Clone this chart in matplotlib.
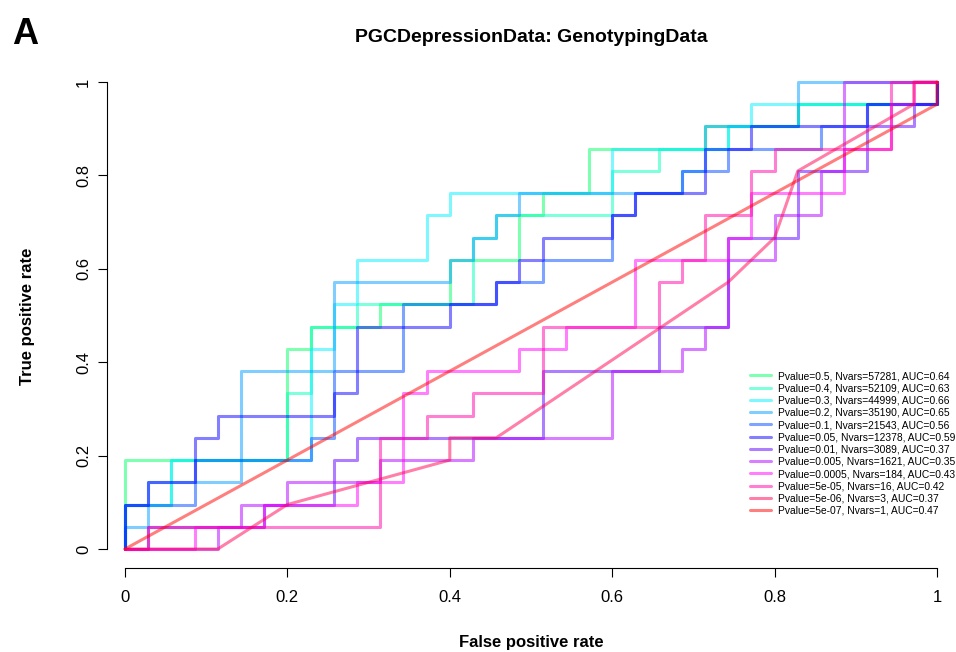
import colorsys
import numpy as np
import matplotlib
matplotlib.use("Agg")
import matplotlib.pyplot as plt

plt.rcParams["font.family"] = ["Liberation Sans", "DejaVu Sans"]

# ---- data -------------------------------------------------------------
N_NEG = 35   # controls  -> false positive rate steps
N_POS = 21   # cases     -> true positive rate steps

pvalues = ["0.5", "0.4", "0.3", "0.2", "0.1", "0.05", "0.01", "0.005",
           "0.0005", "5e-05", "5e-06", "5e-07"]
nvars = [57281, 52109, 44999, 35190, 21543, 12378, 3089, 1621, 184, 16, 3, 1]
auc = [0.64, 0.63, 0.66, 0.65, 0.56, 0.59, 0.37, 0.35, 0.43, 0.42, 0.37, 0.47]

# ROC vertices, in counts of false positives / true positives
fp_p5 = [0, 0, 7, 7, 8, 8, 11, 11, 14, 14, 17, 17, 18, 18, 20, 20, 25, 25, 29, 29, 35, 35]
tp_p5 = [0, 4, 4, 9, 9, 10, 10, 11, 11, 13, 13, 15, 15, 16, 16, 18, 18, 19, 19, 20, 20, 21]

fp_p4 = [0, 0, 2, 2, 7, 7, 8, 8, 10, 10, 15, 15, 16, 16, 21, 21, 23, 23, 26, 26, 29, 29, 35, 35]
tp_p4 = [0, 2, 2, 4, 4, 7, 7, 10, 10, 11, 11, 14, 14, 15, 15, 17, 17, 18, 18, 19, 19, 20, 20, 21]

fp_p3 = [0, 0, 2, 2, 8, 8, 9, 9, 10, 10, 13, 13, 14, 14, 21, 21, 26, 26, 27, 27, 35, 35]
tp_p3 = [0, 2, 2, 4, 4, 9, 9, 11, 11, 13, 13, 15, 15, 16, 16, 18, 18, 19, 19, 20, 20, 21]

fp_p2 = [0, 0, 1, 1, 5, 5, 9, 9, 14, 14, 15, 15, 16, 16, 17, 17, 24, 24, 25, 25, 29, 29, 35]
tp_p2 = [0, 1, 1, 3, 3, 8, 8, 12, 12, 13, 13, 14, 14, 15, 15, 16, 16, 17, 17, 19, 19, 21, 21]

fp_p1 = [0, 0, 3, 3, 8, 8, 9, 9, 12, 12, 16, 16, 18, 18, 21, 21, 22, 22, 24, 24, 26, 26, 30, 30, 32, 32, 35, 35]
tp_p1 = [0, 2, 2, 4, 4, 5, 5, 8, 8, 11, 11, 12, 12, 13, 13, 15, 15, 16, 16, 17, 17, 18, 18, 19, 19, 20, 20, 21]

fp_p05 = [0, 0, 1, 1, 3, 3, 4, 4, 9, 9, 10, 10, 14, 14, 16, 16, 17, 17, 18, 18, 21, 21, 22, 22, 25, 25, 27, 27, 32, 32, 35, 35]
tp_p05 = [0, 2, 2, 3, 3, 5, 5, 6, 6, 7, 7, 10, 10, 11, 11, 12, 12, 13, 13, 14, 14, 15, 15, 16, 16, 18, 18, 19, 19, 20, 20, 21]

fp_p01 = [0, 1, 1, 6, 6, 9, 9, 10, 10, 18, 18, 23, 23, 26, 26, 29, 29, 32, 32, 34, 34, 35, 35]
tp_p01 = [0, 0, 1, 1, 2, 2, 4, 4, 5, 5, 8, 8, 10, 10, 14, 14, 17, 17, 19, 19, 20, 20, 21]

fp_p005 = [0, 4, 4, 5, 5, 7, 7, 11, 11, 15, 15, 21, 21, 24, 24, 25, 25, 26, 26, 28, 28, 30, 30, 31, 31, 35]
tp_p005 = [0, 0, 1, 1, 2, 2, 3, 3, 4, 4, 5, 5, 8, 8, 9, 9, 10, 10, 13, 13, 15, 15, 17, 17, 21, 21]

fp_p0005 = [0, 3, 3, 6, 6, 10, 10, 12, 12, 13, 13, 17, 17, 19, 19, 22, 22, 26, 26, 27, 27, 31, 31, 33, 33, 34, 34, 35]
tp_p0005 = [0, 0, 1, 1, 2, 2, 3, 3, 7, 7, 8, 8, 9, 9, 10, 10, 13, 13, 14, 14, 16, 16, 18, 18, 20, 20, 21, 21]

fp_p5e5 = [0, 1, 1, 11, 11, 13, 13, 15, 15, 18, 18, 23, 23, 24, 24, 25, 25, 27, 27, 28, 28, 33, 33, 35]
tp_p5e5 = [0, 0, 1, 1, 5, 5, 6, 6, 7, 7, 10, 10, 12, 12, 13, 13, 15, 15, 17, 17, 18, 18, 21, 21]

fp_p5e6 = [0, 4, 7, 14, 14, 16, 26, 28, 29, 34, 34, 35]
tp_p5e6 = [0, 0, 2, 4, 5, 5, 12, 14, 17, 20, 21, 21]

fp_p5e7 = [0, 35, 35]
tp_p5e7 = [0, 20, 21]

roc_fp = [fp_p5, fp_p4, fp_p3, fp_p2, fp_p1, fp_p05, fp_p01, fp_p005,
          fp_p0005, fp_p5e5, fp_p5e6, fp_p5e7]
roc_tp = [tp_p5, tp_p4, tp_p3, tp_p2, tp_p1, tp_p05, tp_p01, tp_p005,
          tp_p0005, tp_p5e5, tp_p5e6, tp_p5e7]

x_ticks = [0, 0.2, 0.4, 0.6, 0.8, 1]
tick_labels = ["0", "0.2", "0.4", "0.6", "0.8", "1"]

# ---- figure -----------------------------------------------------------
W, H = 956, 652
fig = plt.figure(figsize=(W / 100, H / 100), dpi=100)


def px_rect(left, top, right, bottom):
    return [left / W, 1 - bottom / H, (right - left) / W, (bottom - top) / H]


ax = fig.add_axes(px_rect(107, 60, W, 568))
ax.set_xlim(-18 / 812, 831 / 812)
ax.set_ylim(-19 / 467, 1 + 22 / 467)

# rainbow palette from green to red, half transparent
hues = np.linspace(0.4, 1.0, len(pvalues))
colors = [colorsys.hsv_to_rgb(h % 1.0, 1.0, 1.0) for h in hues]

handles = []
for fp, tp, col in zip(roc_fp, roc_tp, colors):
    (ln,) = ax.plot(np.array(fp) / N_NEG, np.array(tp) / N_POS, color=col,
                    alpha=0.5, lw=2.2, solid_joinstyle="round",
                    solid_capstyle="round", clip_on=False)
    handles.append(ln)

for side in ("top", "right"):
    ax.spines[side].set_visible(False)
for side in ("left", "bottom"):
    ax.spines[side].set_bounds(0, 1)
    ax.spines[side].set_linewidth(0.8)

ax.set_xticks(x_ticks)
ax.set_xticklabels(tick_labels)
ax.set_yticks(x_ticks)
ax.set_yticklabels(tick_labels, rotation=90, va="center")
ax.tick_params(axis="both", direction="out", length=6.5, width=0.8,
               labelsize=12)
ax.tick_params(axis="x", pad=9)
ax.tick_params(axis="y", pad=5)

labels = [f"Pvalue={p}, Nvars={n}, AUC={a:.2f}"
          for p, n, a in zip(pvalues, nvars, auc)]
fig.legend(handles, labels, loc="upper left",
           bbox_to_anchor=(750 / W, 1 - 371 / H), frameon=False,
           fontsize=7.4, handlelength=2.0, handletextpad=0.75,
           labelspacing=0.22, borderpad=0, borderaxespad=0)

fig.text(531 / W, 1 - 38 / H, "PGCDepressionData: GenotypingData",
         ha="center", va="center", fontsize=14, fontweight="bold")
fig.text(531 / W, 1 - 643 / H, "False positive rate",
         ha="center", va="center", fontsize=12, fontweight="bold")
fig.text(28 / W, 1 - 316 / H, "True positive rate", rotation=90,
         ha="center", va="center", fontsize=12, fontweight="bold")
fig.text(25 / W, 1 - 35 / H, "A", ha="center", va="center",
         fontsize=26, fontweight="bold")

fig.savefig("out.png", dpi=100)
